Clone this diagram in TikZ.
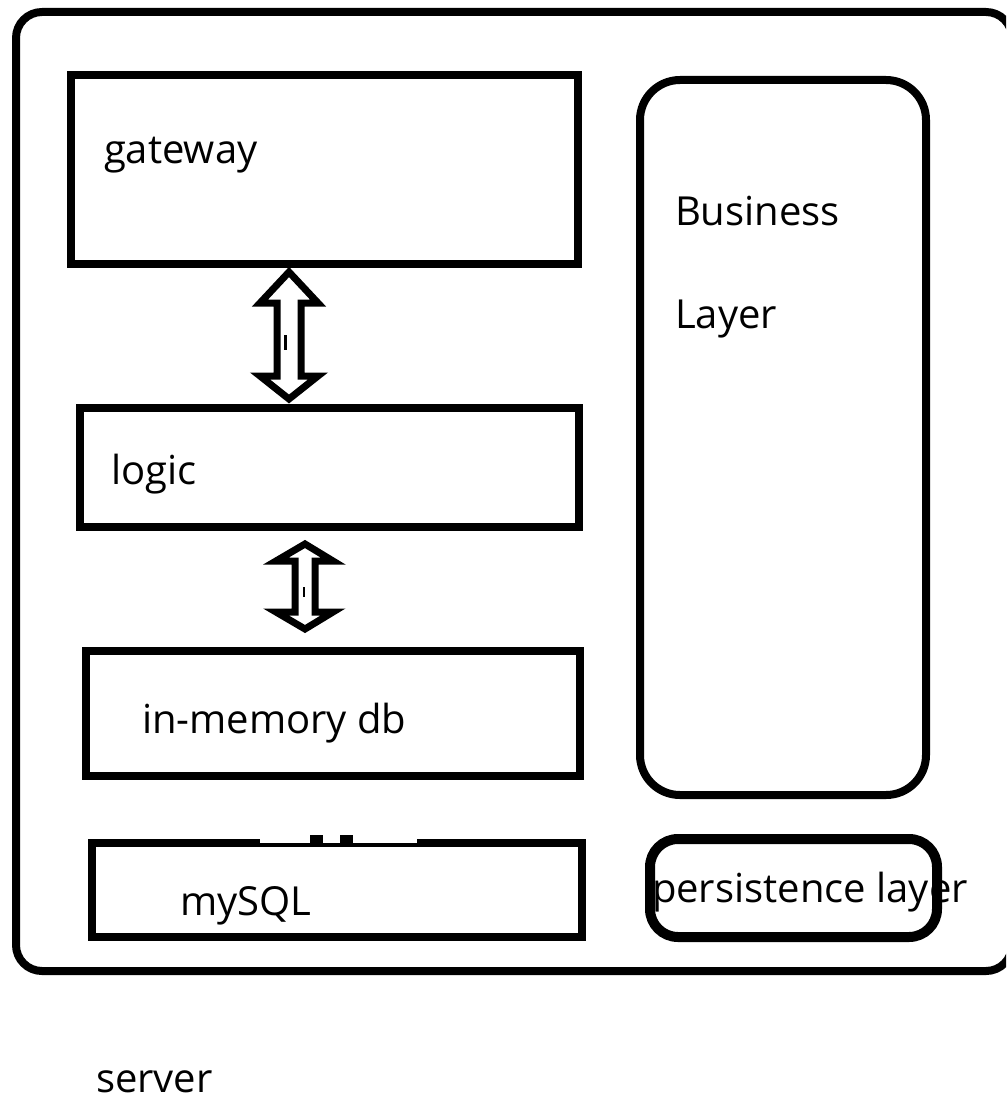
\documentclass[tikz,border=0pt]{standalone}
\usepackage{fontspec}
\setmainfont{Open Sans}
\usetikzlibrary{calc}
\begin{document}
\begin{tikzpicture}[x=1pt,y=-1pt,
  box/.style={draw, line width=7.5pt, rectangle, outer sep=0pt, inner sep=0pt, anchor=north west},
  rbox/.style={box, line width=8pt},
  lbl/.style={anchor=base west, inner sep=0pt, outer sep=0pt, font=\fontsize{40}{40}\selectfont},
  blockarrow/.style={draw, line width=7pt, fill=white, line join=miter, miter limit=4},
  cursor/.style={line width=2.5pt}
]
\useasboundingbox (0,0) rectangle (1006,1102);
\clip (0,0) rectangle (1006,1102);
% outer server frame
\node[rbox, rounded corners=26pt, minimum width=996, minimum height=959] (srv) at (16,12) {};
% boxes
\node[box, minimum width=507, minimum height=189] (gw) at (71,75) {};
\node[box, minimum width=499, minimum height=119] (lg) at (80,408) {};
\node[box, minimum width=494, minimum height=125] (mem) at (86,651) {};
\node[box, minimum width=490, minimum height=94] (sql) at (92,843) {};
\node[rbox, rounded corners=40pt, minimum width=286, minimum height=715] (biz) at (640,80) {};
% partly erased top edge of mySQL box
\fill[white] (260,838.5) rectangle (417,842.5);
\fill (310,835) rectangle (323,843);
\fill (340,835) rectangle (353,843);
% labels
\node[lbl] (tgw) at (104,164) {gateway};
\node[lbl] (tbiz1) at (675,225) {Business};
\node[lbl] (tbiz2) at (675,328) {Layer};
\node[lbl] (tlg) at (111,484) {logic};
\node[lbl] (tmem) at (142,733) {in-memory db};
\node[lbl] (tsql) at (180,915) {mySQL};
\node[lbl] (tper) at (652,902) {persistence layer};
\node[lbl] (tsrv) at (96,1092) {server};
% persistence box
\node[box, line width=10pt, rounded corners=28pt, minimum width=287, minimum height=98] (per) at (650,839) {};
% double block arrows
\coordinate (a1t) at (gw.south -| 289,0);
\coordinate (a1b) at (lg.north -| 289,0);
\draw[blockarrow] ($(a1t)+(0,8)$) -- (318,303) -- (301,303) -- (301,376) -- (318,376)
  -- ($(a1b)+(0,-9)$) -- (260,376) -- (277,376) -- (277,303) -- (260,303) -- cycle;
\draw[cursor] (285.5,335) -- (285.5,350);
\coordinate (a2t) at (lg.south -| 305,0);
\coordinate (a2b) at (mem.north -| 305,0);
\draw[blockarrow] ($(a2t)+(0,17)$) -- (333,561) -- (315,561) -- (315,612) -- (333,612)
  -- ($(a2b)+(0,-22)$) -- (276,612) -- (295,612) -- (295,561) -- (276,561) -- cycle;
\draw[cursor] (304,587) -- (304,597);
\end{tikzpicture}
\end{document}
